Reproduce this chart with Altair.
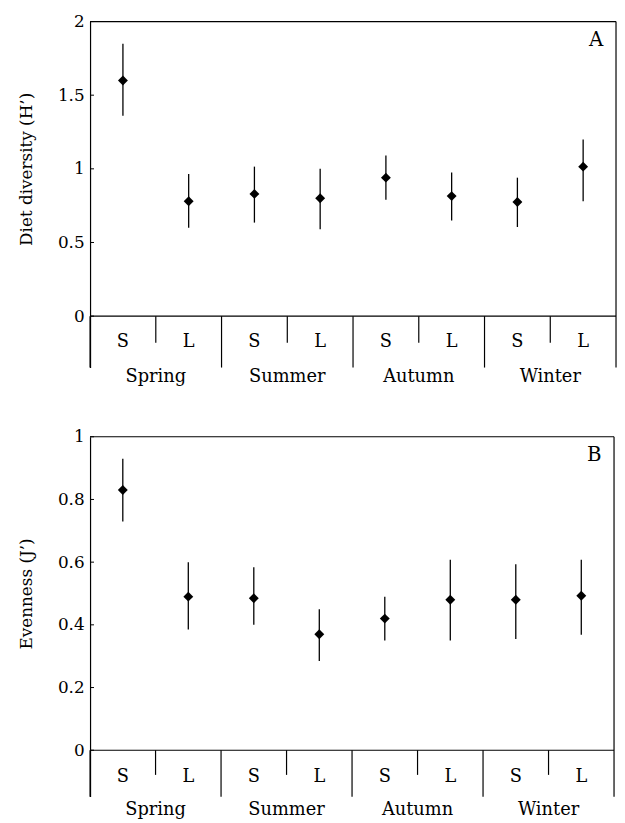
import altair as alt
import pandas as pd

seasons = ["Spring", "Summer", "Autumn", "Winter"]
sizes = ["S", "L"]

# Panel A: diet diversity H'
h_mean = [1.60, 0.78, 0.83, 0.80, 0.94, 0.815, 0.775, 1.015]
h_low = [1.36, 0.60, 0.635, 0.59, 0.79, 0.65, 0.605, 0.78]
h_high = [1.85, 0.965, 1.015, 1.00, 1.09, 0.975, 0.94, 1.20]
h_ticks = [0, 0.5, 1, 1.5, 2]

# Panel B: evenness J'
j_mean = [0.83, 0.49, 0.485, 0.37, 0.42, 0.48, 0.48, 0.493]
j_low = [0.73, 0.385, 0.40, 0.285, 0.35, 0.35, 0.355, 0.368]
j_high = [0.93, 0.60, 0.584, 0.45, 0.49, 0.608, 0.593, 0.608]
j_ticks = [0, 0.2, 0.4, 0.6, 0.8, 1]

FONT = "DejaVu Serif"


def make_panel(mean, low, high, ydom, yticks, ytitle, letter, width, height,
               sl_y, season_y, sep_y, title_pad, zero_px):
    keys = [f"{s} {z}" for s in seasons for z in sizes]
    df = pd.DataFrame({
        "key": keys,
        "season": [s for s in seasons for z in sizes],
        "size": [z for s in seasons for z in sizes],
        "mean": mean, "low": low, "high": high,
    })
    xs = alt.Scale(domain=keys, paddingInner=0, paddingOuter=0)

    def X(bp=None):
        if bp is None:
            return alt.X("key:N", scale=xs, axis=None)
        return alt.X("key:N", scale=xs, axis=None, bandPosition=bp)

    yscale = alt.Scale(domain=ydom, nice=False, zero=False)
    axis = alt.Axis(values=yticks, format="~g", ticks=False, grid=False,
                    domainColor="black", domainWidth=1.2,
                    labelFont=FONT, labelFontSize=17, labelColor="black",
                    labelPadding=6, titleFont=FONT, titleFontSize=17,
                    titleFontWeight="normal", titleColor="black",
                    titlePadding=title_pad, titleY=zero_px / 2)
    base = alt.Chart(df)
    err = base.mark_rule(color="black", strokeWidth=1.3).encode(
        x=X(), y=alt.Y("low:Q", scale=yscale, axis=axis, title=ytitle),
        y2="high:Q")
    pts = base.mark_point(shape="diamond", filled=True, color="black",
                          size=100, opacity=1).encode(x=X(), y="mean:Q")
    sl_text = base.mark_text(font=FONT, fontSize=18, baseline="middle",
                             color="black").encode(
        x=X(), y=alt.value(sl_y), text="size:N")
    s_df = df[df["size"] == "S"]
    l_df = df[df["size"] == "L"]
    season_text = alt.Chart(s_df).mark_text(
        font=FONT, fontSize=18, baseline="middle", color="black").encode(
        x=X(1), y=alt.value(season_y), text="season:N")
    sl_sep = alt.Chart(l_df).mark_rule(color="black", strokeWidth=1.2).encode(
        x=X(0), y=alt.Y(datum=0), y2=alt.value(sep_y))
    season_sep = alt.Chart(s_df).mark_rule(color="black", strokeWidth=1.2).encode(
        x=X(0), y=alt.Y(datum=0), y2=alt.value(height))
    right = alt.Chart(df[df["key"] == keys[-1]]).mark_rule(
        color="black", strokeWidth=1.2).encode(
        x=X(1), y=alt.value(0), y2=alt.value(height))
    top = alt.Chart(df.head(1)).mark_rule(color="black", strokeWidth=1.2).encode(
        x=alt.value(0), x2=alt.value(width), y=alt.value(0))
    zero = alt.Chart(df.head(1)).mark_rule(color="black", strokeWidth=1.2).encode(
        x=alt.value(0), x2=alt.value(width), y=alt.Y(datum=0))
    tick_df = pd.DataFrame({"t": yticks})
    ticks = alt.Chart(tick_df).mark_rule(color="black", strokeWidth=1).encode(
        x=alt.value(0), x2=alt.value(4), y="t:Q")
    lab = alt.Chart(pd.DataFrame({"t": [letter]})).mark_text(
        font=FONT, fontSize=20, color="black", baseline="middle").encode(
        x=alt.value(width - 20), y=alt.value(19), text="t:N")
    return alt.layer(err, pts, ticks, top, zero, right, sl_sep, season_sep,
                     sl_text, season_text, lab).properties(
        width=width, height=height)


panel_a = make_panel(h_mean, h_low, h_high, [-0.349, 2], h_ticks,
                     "Diet diversity (H’)", "A", 532, 350,
                     324, 360, 325, 22, 298)
panel_b = make_panel(j_mean, j_low, j_high, [-0.148, 1], j_ticks,
                     "Evenness (J’)", "B", 530, 364,
                     344, 378, 342, 22, 317)

chart = alt.vconcat(panel_a, panel_b, spacing=42).properties(
    padding={"left": 9, "top": 0, "right": 0, "bottom": 0}
).configure_view(stroke=None)
chart.save("out.html", embed_options={"renderer": "svg", "actions": False})
